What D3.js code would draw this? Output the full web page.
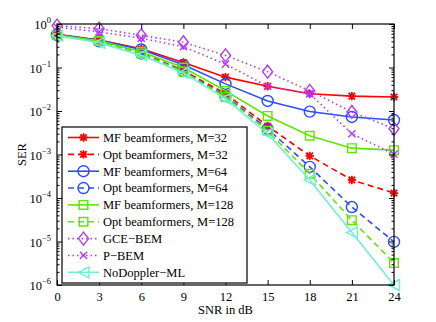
<!DOCTYPE html>
<html><head><meta charset="utf-8">
<script src="https://cdn.jsdelivr.net/npm/d3@7"></script>
<style>body{margin:0;background:#fff}svg{display:block}text{font-family:"Liberation Serif","Times New Roman",serif;fill:#000}</style>
</head><body><svg id="c" width="436" height="322"></svg>
<script>
const snr = [0,3,6,9,12,15,18,21,24];
const mf32   = [0.58,0.43,0.27,0.13,0.06,0.037,0.025,0.022,0.021];
const opt32  = [0.56,0.41,0.22,0.085,0.025,0.0045,0.00093,0.00026,0.00013];
const mf64   = [0.57,0.42,0.26,0.115,0.042,0.017,0.0097,0.0073,0.0062];
const opt64  = [0.56,0.40,0.21,0.083,0.022,0.0039,0.00052,0.000062,0.0000098];
const mf128  = [0.56,0.41,0.23,0.10,0.029,0.0077,0.0027,0.0014,0.00126];
const opt128 = [0.55,0.40,0.21,0.08,0.021,0.0035,0.00036,0.000031,0.0000032];
const gce    = [0.92,0.78,0.55,0.38,0.19,0.08,0.029,0.0095,0.0039];
const pbem   = [0.85,0.66,0.47,0.30,0.12,0.037,0.025,0.003,0.00102];
const nodop  = [0.54,0.37,0.19,0.075,0.019,0.003,0.00026,0.000016,0.000001];
const seriesNames = ["MF beamformers, M=32","Opt beamformers, M=32","MF beamformers, M=64","Opt beamformers, M=64","MF beamformers, M=128","Opt beamformers, M=128","GCE\u2212BEM","P\u2212BEM","NoDoppler\u2212ML"];
const xTicks = [0,3,6,9,12,15,18,21,24];
const yExps = [0,-1,-2,-3,-4,-5,-6];

const RED="#ff0000", BLUE="#2a4dff", GREEN="#5fe600", PURPLE="#b23cff", CYAN="#70f0d4";
const series = [
  {name:seriesNames[0], v:mf32,  color:RED,    dash:null,  m:"star"},
  {name:seriesNames[1], v:opt32, color:RED,    dash:"6,4", m:"star"},
  {name:seriesNames[2], v:mf64,  color:BLUE,   dash:null,  m:"circle"},
  {name:seriesNames[3], v:opt64, color:BLUE,   dash:"6,4", m:"circle"},
  {name:seriesNames[4], v:mf128, color:GREEN,  dash:null,  m:"square"},
  {name:seriesNames[5], v:opt128,color:GREEN,  dash:"6,4", m:"square"},
  {name:seriesNames[6], v:gce,   color:PURPLE, dash:"1.5,3", m:"diamond"},
  {name:seriesNames[7], v:pbem,  color:PURPLE, dash:"1.5,3", m:"x"},
  {name:seriesNames[8], v:nodop, color:CYAN,   dash:null,  m:"tri"}
];

const L=57,R=394,T=24,B=285;
const x = d3.scaleLinear().domain([0,24]).range([L,R]);
const y = d3.scaleLog().domain([1e-6,1]).range([B,T]);
const svg = d3.select("#c");

function markerPath(t,cx,cy){
  const p=d3.path();
  if(t==="star"){const s=4.2,d=3.2;p.moveTo(cx-s,cy);p.lineTo(cx+s,cy);p.moveTo(cx,cy-s);p.lineTo(cx,cy+s);p.moveTo(cx-d,cy-d);p.lineTo(cx+d,cy+d);p.moveTo(cx-d,cy+d);p.lineTo(cx+d,cy-d);}
  else if(t==="circle"){p.moveTo(cx+5.5,cy);p.arc(cx,cy,5.5,0,2*Math.PI);}
  else if(t==="square"){p.rect(cx-4.3,cy-4.3,8.6,8.6);}
  else if(t==="diamond"){p.moveTo(cx,cy-6.5);p.lineTo(cx+5,cy);p.lineTo(cx,cy+6.5);p.lineTo(cx-5,cy);p.closePath();}
  else if(t==="x"){const s=3.6;p.moveTo(cx-s,cy-s);p.lineTo(cx+s,cy+s);p.moveTo(cx-s,cy+s);p.lineTo(cx+s,cy-s);}
  else if(t==="tri"){p.moveTo(cx-5.5,cy);p.lineTo(cx+5.5,cy-5.5);p.lineTo(cx+5.5,cy+5.5);p.closePath();}
  return p.toString();
}

svg.append("rect").attr("x",L).attr("y",T).attr("width",R-L).attr("height",B-T).attr("fill","#fff").attr("stroke","none");

const line = d3.line().x((d,i)=>x(snr[i])).y(d=>y(d));
series.forEach(s=>{
  const g=svg.append("g");
  g.append("path").attr("d",line(s.v)).attr("fill","none").attr("stroke",s.color).attr("stroke-width",1.6)
   .attr("stroke-dasharray",s.dash);
  g.selectAll("path.m").data(s.v).enter().append("path").attr("class","m")
   .attr("d",(d,i)=>markerPath(s.m,x(snr[i]),y(d)))
   .attr("fill","none").attr("stroke",s.color).attr("stroke-width",s.m==="star"?1.8:1.4);
});

const minor=[];
for(let e=-6;e<0;e++){for(let k=2;k<=9;k++)minor.push(k*Math.pow(10,e));}
function styleAxis(g){g.select(".domain").remove();g.selectAll("line").attr("stroke","#000").attr("stroke-width",1);}
svg.append("g").attr("transform",`translate(0,${B})`).call(d3.axisBottom(x).tickValues(xTicks).tickSizeInner(-5).tickSizeOuter(0).tickPadding(12))
  .call(styleAxis).call(g=>g.selectAll("text").attr("font-size",12.5).attr("font-family","Liberation Serif").attr("dy","0.3em"));
svg.append("g").attr("transform",`translate(0,${T})`).call(d3.axisTop(x).tickValues(xTicks).tickSizeInner(-5).tickSizeOuter(0).tickFormat(""))
  .call(styleAxis);
const yMaj = yExps.map(e=>Math.pow(10,e));
svg.append("g").attr("transform",`translate(${L},0)`).call(d3.axisLeft(y).tickValues(yMaj).tickSizeInner(-5).tickSizeOuter(0).tickFormat("")).call(styleAxis);
svg.append("g").attr("transform",`translate(${L},0)`).call(d3.axisLeft(y).tickValues(minor).tickSizeInner(-2.5).tickSizeOuter(0).tickFormat("")).call(styleAxis);
svg.append("g").attr("transform",`translate(${R},0)`).call(d3.axisRight(y).tickValues(yMaj).tickSizeInner(-5).tickSizeOuter(0).tickFormat("")).call(styleAxis);
svg.append("g").attr("transform",`translate(${R},0)`).call(d3.axisRight(y).tickValues(minor).tickSizeInner(-2.5).tickSizeOuter(0).tickFormat("")).call(styleAxis);

yExps.forEach(e=>{
  const t=svg.append("text").attr("x",51).attr("y",y(Math.pow(10,e))+5).attr("text-anchor","end").attr("font-size",12.5);
  t.append("tspan").text("10");
  t.append("tspan").attr("dy",-6).attr("font-size",8.5).text(e===0?"0":"\u2212"+(-e));
});

svg.append("rect").attr("x",L).attr("y",T).attr("width",R-L).attr("height",B-T).attr("fill","none").attr("stroke","#000").attr("stroke-width",1.2);

svg.append("text").attr("x",(L+R)/2).attr("y",314).attr("text-anchor","middle").attr("font-size",12.5).text("SNR in dB");
svg.append("text").attr("transform",`translate(26,${(T+B)/2}) rotate(-90)`).attr("text-anchor","middle").attr("font-size",12.5).text("SER");

const lg=svg.append("g");
lg.append("rect").attr("x",62).attr("y",127).attr("width",185).attr("height",156).attr("fill","#fff").attr("stroke","#000").attr("stroke-width",1.2);
series.forEach((s,i)=>{
  const cy=137.5+i*16.85;
  lg.append("line").attr("x1",68).attr("x2",99).attr("y1",cy).attr("y2",cy).attr("stroke",s.color).attr("stroke-width",1.6).attr("stroke-dasharray",s.dash);
  lg.append("path").attr("d",markerPath(s.m,83.5,cy)).attr("fill","none").attr("stroke",s.color).attr("stroke-width",s.m==="star"?1.8:1.4);
  lg.append("text").attr("x",103).attr("y",cy+4.3).attr("font-size",12.5).text(s.name);
});
</script></body></html>
